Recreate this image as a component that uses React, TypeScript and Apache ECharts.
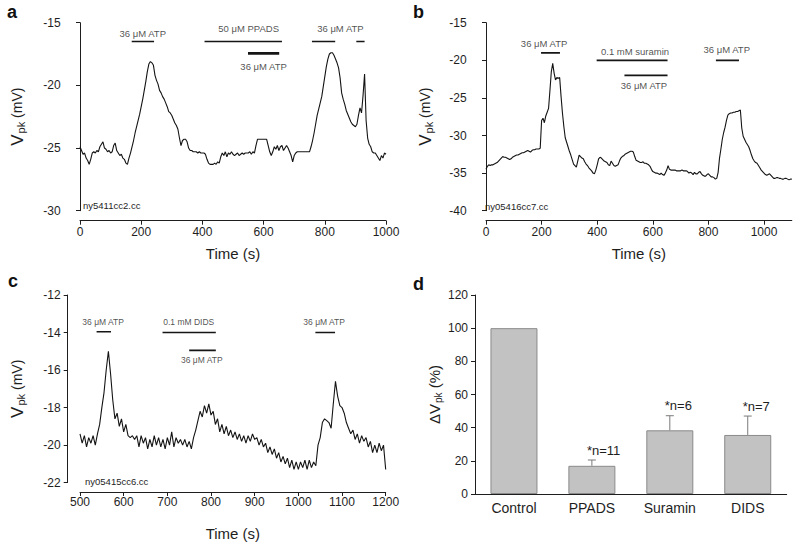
import React, { useEffect, useRef } from 'react';
import * as echarts from 'echarts';

// ---------------- data ----------------
// panel a: Vpk trace (mV), sampled every 5 s from t = 0 s
const A_T0 = 0;
const A_DT = 5;
const A_VPK = [
  -24.9, -25.2, -25.5, -25.4, -25.8, -26.0, -26.3, -25.9, -25.4, -25.3,
  -25.4, -25.2, -25.3, -24.9, -24.7, -24.5, -25.0, -25.1, -25.3, -25.2,
  -25.4, -25.3, -24.8, -24.6, -25.2, -25.4, -25.6, -25.5, -25.8, -25.9,
  -26.2, -26.3, -25.8, -25.4, -24.9, -24.4, -23.8, -23.3, -22.8, -22.3,
  -21.7, -21.1, -20.4, -19.7, -18.9, -18.3, -18.1, -18.2, -18.4, -19.2,
  -19.6, -19.9, -20.4, -20.6, -20.9, -21.1, -21.4, -21.7, -22.1, -22.2,
  -22.4, -22.7, -23.0, -23.2, -23.5, -24.2, -24.8, -24.4, -24.3, -24.3,
  -24.5, -25.0, -25.2, -25.2, -25.3, -25.3, -25.3, -25.4, -25.3, -25.4,
  -25.4, -25.4, -25.5, -25.9, -26.2, -26.3, -26.3, -26.3, -26.2, -26.3,
  -26.1, -26.2, -25.7, -25.4, -25.6, -25.3, -25.7, -25.4, -25.5, -25.3,
  -25.5, -25.6, -25.5, -25.4, -25.6, -25.5, -25.4, -25.5, -25.4, -25.4,
  -25.4, -25.3, -25.5, -25.3, -25.4, -24.8, -24.3, -24.3, -24.3, -24.3,
  -24.3, -24.3, -24.3, -24.8, -25.3, -25.6, -25.3, -24.9, -25.1, -24.8,
  -25.2, -24.9, -24.8, -25.2, -25.0, -24.8, -25.0, -25.3, -25.6, -26.1,
  -25.6, -25.4, -25.3, -25.3, -25.3, -25.3, -25.3, -25.3, -25.3, -25.3,
  -25.3, -24.9, -24.4, -23.8, -23.1, -22.4, -21.9, -21.4, -20.9, -20.1,
  -19.3, -18.5, -17.9, -17.5, -17.4, -17.4, -17.6, -17.9, -18.2, -18.6,
  -19.4, -20.6, -21.1, -21.5, -22.0, -22.3, -22.6, -22.9, -23.1, -23.2,
  -23.3, -23.1, -22.4, -21.8, -22.2, -20.8, -19.1, -22.8, -24.2, -24.7,
  -24.9, -25.3, -25.4, -25.4, -25.6, -25.8, -26.0, -25.6, -25.8, -25.4,
  -25.5,
];

// panel b: Vpk trace (mV), sampled every 5 s from t = 0 s
const B_T0 = 0;
const B_DT = 5;
const B_VPK = [
  -34.5, -34.1, -33.9, -34.0, -33.9, -33.9, -33.8, -33.7, -33.6, -33.4,
  -33.2, -33.0, -32.8, -32.9, -32.9, -33.0, -33.1, -33.2, -33.1, -32.9,
  -32.8, -32.7, -32.6, -32.6, -32.5, -32.4, -32.3, -32.3, -32.2, -32.1,
  -32.0, -32.1, -32.2, -32.0, -31.9, -31.9, -31.8, -31.8, -31.8, -31.7,
  -28.0, -27.7, -28.3, -27.4, -26.9, -26.4, -24.0, -21.5, -20.4, -21.7,
  -22.6, -22.3, -22.4, -22.3, -24.8, -27.0, -28.8, -30.3, -30.9, -31.5,
  -32.1, -32.6, -33.2, -33.8, -34.0, -34.2, -33.4, -32.6, -32.8, -33.0,
  -33.1, -33.5, -33.8, -34.0, -34.3, -34.5, -34.7, -35.0, -35.1, -34.6,
  -33.9, -33.1, -32.9, -33.0, -33.2, -33.4, -33.5, -33.6, -33.9, -34.0,
  -33.4, -33.7, -34.0, -34.1, -34.0, -33.9, -33.4, -33.0, -32.8, -32.7,
  -32.5, -32.4, -32.3, -32.2, -32.1, -32.1, -32.2, -32.8, -33.3, -33.4,
  -33.5, -33.6, -33.6, -33.5, -33.7, -33.7, -33.8, -33.9, -34.1, -34.5,
  -34.8, -34.9, -35.0, -35.0, -35.1, -35.2, -35.0, -35.2, -35.3, -35.0,
  -34.6, -34.0, -34.5, -34.6, -34.6, -34.6, -34.6, -34.7, -34.7, -34.7,
  -34.7, -34.6, -34.7, -34.7, -34.7, -34.8, -35.0, -34.9, -35.0, -35.2,
  -34.9, -35.1, -35.1, -34.9, -34.8, -35.1, -35.3, -35.4, -35.4, -35.2,
  -35.1, -35.3, -35.5, -35.5, -35.6, -35.8, -35.7, -34.9, -33.0, -31.8,
  -30.5, -29.6, -28.9, -28.0, -27.3, -27.1, -27.0, -27.0, -26.9, -26.9,
  -26.8, -26.8, -26.7, -26.6, -29.0, -30.1, -30.5, -30.9, -31.2, -31.5,
  -32.0, -32.6, -33.1, -33.4, -33.6, -33.7, -34.0, -34.3, -34.6, -34.8,
  -35.0, -35.2, -35.3, -35.2, -35.1, -35.3, -35.5, -35.7, -35.7, -35.6,
  -35.6, -35.7, -35.7, -35.8, -35.8, -35.7, -35.7, -35.8, -35.9, -35.8,
  -35.8,
];

// panel c: Vpk trace (mV), sampled every 5 s from t = 500 s
const C_T0 = 500;
const C_DT = 5;
const C_VPK = [
  -19.4, -19.9, -19.5, -20.1, -19.6, -19.9, -19.5, -20.0, -19.4, -18.9,
  -18.0, -17.2, -16.0, -15.0, -16.2, -17.6, -18.6, -18.3, -19.0, -18.6,
  -19.3, -18.9, -19.5, -19.6, -19.5, -19.7, -19.5, -20.1, -19.5, -19.9,
  -19.6, -20.2, -19.7, -20.1, -19.5, -20.0, -19.6, -20.1, -19.7, -20.2,
  -19.6, -20.0, -19.3, -20.1, -19.6, -19.9, -19.7, -20.0, -19.7, -20.1,
  -19.8, -20.2, -19.6, -19.2, -18.7, -18.2, -18.5, -17.9, -18.3, -17.8,
  -18.4, -18.2, -18.9, -18.6, -19.3, -18.9, -19.4, -19.0, -19.5, -19.2,
  -19.6, -19.3, -19.7, -19.4, -19.8, -19.5, -19.9, -19.5, -19.8, -19.4,
  -19.7, -19.6, -20.0, -19.7, -20.1, -19.9, -20.4, -20.1, -20.5, -20.2,
  -20.7, -20.4, -20.9, -20.6, -21.0, -20.7, -21.2, -20.8, -21.3, -20.9,
  -21.3, -20.9, -21.2, -20.8, -21.3, -20.8, -21.2, -20.9, -21.1, -20.0,
  -19.6, -18.8, -18.6, -18.7, -18.8, -19.1, -17.8, -16.6, -17.4, -17.9,
  -18.0, -18.3, -18.8, -19.1, -19.4, -19.2, -19.7, -19.4, -19.9, -19.5,
  -19.8, -19.6, -20.1, -19.8, -20.4, -20.0, -20.4, -19.9, -20.3, -20.0,
  -21.3,
];

// drug application bars: [start s, end s, level mV]
const A_APPS = [[169, 242, -16.5], [407, 660, -16.5], [549, 651, -17.45], [758, 834, -16.5], [903, 930, -16.5]];
const A_APP_TEXT = [[205, -15.85, '36 μM ATP'], [551, -15.5, '50 μM PPADS'], [600, -18.5, '36 μM ATP'], [851, -15.5, '36 μM ATP']];
const B_APPS = [[198, 266, -19.0], [398, 653, -20.0], [498, 653, -22.0], [827, 910, -20.0]];
const B_APP_TEXT = [[209, -17.8, '36 μM ATP'], [536, -18.8, '0.1 mM suramin'], [568, -23.3, '36 μM ATP'], [866, -18.6, '36 μM ATP']];
const C_APPS = [[538, 571, -13.96], [689, 811, -14.0], [750, 811, -14.95], [1039, 1084, -14.0]];
const C_APP_TEXT = [[553, -13.43, '36 μM ATP'], [749, -13.43, '0.1 mM DIDS'], [779, -15.45, '36 μM ATP'], [1059, -13.43, '36 μM ATP']];

// panel d
const CATEGORIES = ['Control', 'PPADS', 'Suramin', 'DIDS'];
const DELTA_VPK = [100, 17, 38.4, 35.6];
const DELTA_VPK_ERR_TOP = [null, 20.5, 47.2, 47.0];
const N_LABELS = ['', '*n=11', '*n=6', '*n=7'];

const B_X_TICKS = [0, 200, 400, 600, 800, 1000];

// ---------------- styling ----------------
const FONT = '"Liberation Sans", Arial, Helvetica, sans-serif';
const INK = '#1e1e1e';

function trace(idx: number, t0: number, dt: number, vals: number[]) {
  return {
    type: 'line', xAxisIndex: idx, yAxisIndex: idx, silent: true, z: 3,
    data: vals.map((v, i) => [t0 + i * dt, v]),
    showSymbol: false, symbol: 'none',
    lineStyle: { width: 1.1, color: '#141414' },
  };
}

function appBars(idx: number, apps: number[][], thick: number[]) {
  return apps.map((a, k) => ({
    type: 'line', xAxisIndex: idx, yAxisIndex: idx, silent: true, z: 3,
    data: [[a[0], a[2]], [a[1], a[2]]], symbol: 'none',
    lineStyle: { width: thick.includes(k) ? 2.6 : 1.7, color: '#151515' },
  }));
}

function appText(idx: number, items: any[][], fontSize: number) {
  return {
    type: 'scatter', xAxisIndex: idx, yAxisIndex: idx, silent: true, z: 4,
    data: items.map((l) => ({ value: [l[0], l[1]], name: l[2] })),
    symbolSize: 1, itemStyle: { color: 'rgba(0,0,0,0)' },
    label: { show: true, position: 'inside', formatter: '{b}', fontSize, fontFamily: FONT, color: INK },
  };
}

const plain = (v: number) => String(v);
const axisLine = { show: true, lineStyle: { color: INK, width: 1 } };
const tick = { show: true, length: 4, lineStyle: { color: INK } };
const tickLabel = (margin: number, size = 12) => ({ fontSize: size, margin, color: INK, fontFamily: FONT });

function timeAxis(idx: number, min: number, max: number, interval: number, offset: number, nameGap: number, margin: number, custom?: number[]) {
  const lbl: any = { ...tickLabel(margin), formatter: plain };
  if (custom) lbl.customValues = custom;
  return {
    gridIndex: idx, type: 'value', min, max, interval, offset,
    axisLine,
    axisTick: custom ? { ...tick, customValues: custom } : tick,
    axisLabel: lbl,
    splitLine: { show: false },
    name: 'Time (s)', nameLocation: 'middle', nameGap,
    nameTextStyle: { fontSize: 15, color: INK, fontFamily: FONT },
  };
}

const vpkRich = {
  v: { fontSize: 17, color: INK, fontFamily: FONT },
  s: { fontSize: 11, color: INK, fontFamily: FONT, padding: [8, 0, 0, 1] },
  t: { fontSize: 14, color: INK, fontFamily: FONT },
};

function vpkAxis(idx: number, min: number, max: number, interval: number, offset: number, nameGap: number, margin: number) {
  return {
    gridIndex: idx, type: 'value', min, max, interval, offset,
    axisLine, axisTick: tick, axisLabel: { ...tickLabel(margin), formatter: plain }, splitLine: { show: false },
    name: '{v|V}{s|pk}{t| (mV)}', nameLocation: 'middle', nameGap,
    nameTextStyle: { color: INK, fontFamily: FONT, rich: vpkRich },
  };
}

function buildOption() {
  const errData = CATEGORIES.map((_, i) => [i, DELTA_VPK[i], DELTA_VPK_ERR_TOP[i]]).filter((d) => d[2] != null);
  return {
    animation: false,
    backgroundColor: '#ffffff',
    textStyle: { fontFamily: FONT },
    grid: [
      { left: 80, top: 22.7, width: 306, height: 188 },
      { left: 486, top: 22.7, width: 305.8, height: 188 },
      { left: 80, top: 295, width: 305.7, height: 188.3 },
      { left: 475, top: 295, width: 311.7, height: 199 },
    ],
    xAxis: [
      timeAxis(0, 0, 1000, 200, 10, 25, 5),
      timeAxis(1, 0, 1100, 200, 10, 25, 5, B_X_TICKS),
      timeAxis(2, 500, 1200, 100, 9.4, 34, 4),
      {
        gridIndex: 3, type: 'category', data: CATEGORIES,
        axisLine, axisTick: { show: false },
        axisLabel: tickLabel(7, 14), splitLine: { show: false },
      },
    ],
    yAxis: [
      vpkAxis(0, -30, -15, 5, 12.3, 41, 7),
      vpkAxis(1, -40, -15, 5, 14.3, 37, 5),
      vpkAxis(2, -22, -12, 2, 12.3, 41, 7),
      {
        gridIndex: 3, type: 'value', min: 0, max: 120, interval: 20,
        axisLine, axisTick: tick, axisLabel: { ...tickLabel(7), formatter: plain }, splitLine: { show: false },
        name: '{t|Δ}{v|V}{s|pk}{t| (%)}', nameLocation: 'middle', nameGap: 32,
        nameTextStyle: {
          color: INK, fontFamily: FONT,
          rich: {
            v: { fontSize: 15, color: INK, fontFamily: FONT },
            s: { fontSize: 10, color: INK, fontFamily: FONT, padding: [7, 0, 0, 1] },
            t: { fontSize: 15, color: INK, fontFamily: FONT },
          },
        },
      },
    ],
    series: [
      trace(0, A_T0, A_DT, A_VPK),
      trace(1, B_T0, B_DT, B_VPK),
      trace(2, C_T0, C_DT, C_VPK),
      ...appBars(0, A_APPS, [2]),
      ...appBars(1, B_APPS, []),
      ...appBars(2, C_APPS, []),
      appText(0, A_APP_TEXT, 9.5),
      appText(1, B_APP_TEXT, 9.5),
      appText(2, C_APP_TEXT, 8.5),
      {
        type: 'bar', xAxisIndex: 3, yAxisIndex: 3, silent: true,
        data: DELTA_VPK, barWidth: 47,
        itemStyle: { color: '#c2c2c2', borderColor: '#8a8a8a', borderWidth: 1 },
      },
      {
        type: 'custom', xAxisIndex: 3, yAxisIndex: 3, silent: true, z: 5,
        data: errData,
        renderItem: (params: any, api: any) => {
          const i = api.value(0);
          const base = api.coord([i, api.value(1)]);
          const top = api.coord([i, api.value(2)]);
          const st = { stroke: '#7a7a7a', lineWidth: 1 };
          return {
            type: 'group',
            children: [
              { type: 'line', shape: { x1: base[0], y1: base[1], x2: top[0], y2: top[1] }, style: st },
              { type: 'line', shape: { x1: top[0] - 4, y1: top[1], x2: top[0] + 4, y2: top[1] }, style: st },
              {
                type: 'text', x: top[0] - 5, y: top[1] - 10,
                style: {
                  text: N_LABELS[i], fontSize: 13, fontFamily: FONT, fill: INK,
                  align: 'left', verticalAlign: 'middle', textAlign: 'left', textVerticalAlign: 'middle',
                },
              },
            ],
          };
        },
      },
    ],
    graphic: [
      { type: 'text', left: 7, top: 3, style: { text: 'a', fontSize: 18, fontWeight: 'bold', fontFamily: FONT, fill: '#111' } },
      { type: 'text', left: 413, top: 3, style: { text: 'b', fontSize: 18, fontWeight: 'bold', fontFamily: FONT, fill: '#111' } },
      { type: 'text', left: 8, top: 272, style: { text: 'c', fontSize: 18, fontWeight: 'bold', fontFamily: FONT, fill: '#111' } },
      { type: 'text', left: 413, top: 275, style: { text: 'd', fontSize: 18, fontWeight: 'bold', fontFamily: FONT, fill: '#111' } },
      { type: 'text', left: 83, top: 200, style: { text: 'ny5411cc2.cc', fontSize: 9.5, fontFamily: FONT, fill: INK } },
      { type: 'text', left: 485, top: 201, style: { text: 'ny05416cc7.cc', fontSize: 9.5, fontFamily: FONT, fill: INK } },
      { type: 'text', left: 85, top: 476, style: { text: 'ny05415cc6.cc', fontSize: 9.5, fontFamily: FONT, fill: INK } },
    ],
  };
}

export default function App() {
  const ref = useRef<HTMLDivElement>(null);
  useEffect(() => {
    document.body.style.margin = '0';
    const chart = echarts.init(ref.current as HTMLDivElement, undefined, { renderer: 'svg' });
    chart.setOption(buildOption() as any);
    return () => chart.dispose();
  }, []);
  return <div ref={ref} style={{ width: 800, height: 542, background: '#fff' }} />;
}
